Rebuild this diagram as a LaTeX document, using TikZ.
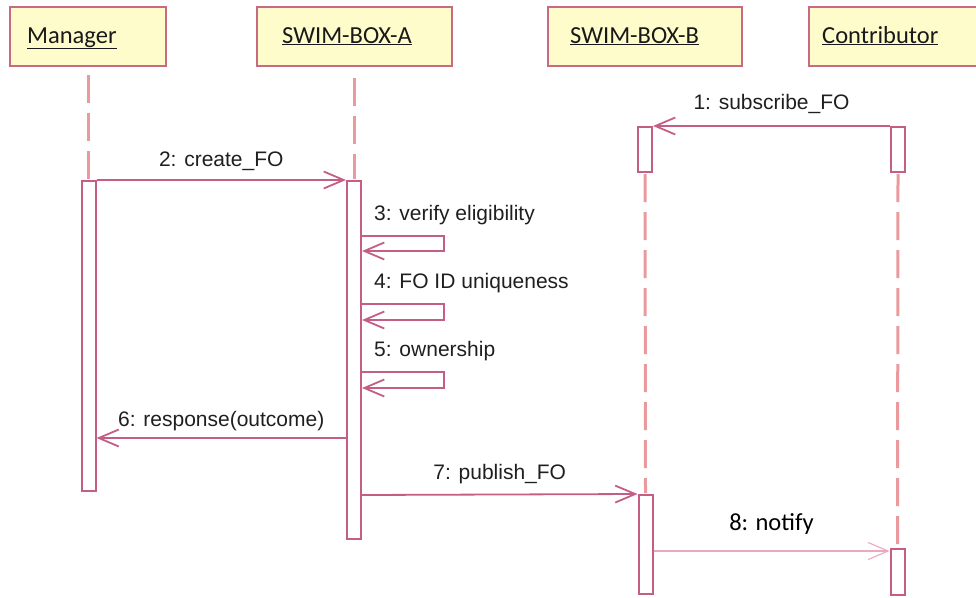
\documentclass[tikz,border=0pt]{standalone}
\usepackage{fontspec}
\setmainfont{Liberation Sans}
\newfontfamily\headfont{Carlito}
\usetikzlibrary{arrows.meta}

\definecolor{headfill}{HTML}{FFFCCB}
\definecolor{headline}{HTML}{C86A84}
\definecolor{lifecol}{HTML}{EA9A9C}
\definecolor{msgcol}{HTML}{C55E85}
\definecolor{notifycol}{HTML}{EBA9BE}

\begin{document}
\begin{tikzpicture}[x=1pt, y=-1pt,
        head/.style={draw=headline, fill=headfill, line width=2pt, inner sep=0pt, minimum height=59pt},
        headtext/.style={anchor=base west, inner sep=0pt, font=\headfont\fontsize{24.5}{28}\selectfont, text=black!90},
        bar/.style={draw=msgcol, fill=white, line width=2pt, inner sep=0pt, minimum width=14pt},
        life/.style={lifecol, line width=3pt, dash pattern=on 28pt off 10pt},
        msg/.style={msgcol, line width=1.8pt, -{Straight Barb[length=20pt, width=17pt]}},
        lbl/.style={anchor=base, inner sep=0pt, font=\fontsize{21}{25}\selectfont, text=black!88}]
    \useasboundingbox (0, 0) rectangle (976, 597);

    % lifeline heads
    \node[head, minimum width=156pt] (mgr) at (88, 36.5) {};
    \node[head, minimum width=195pt] (boxa) at (354.5, 36.5) {};
    \node[head, minimum width=194pt] (boxb) at (645, 36.5) {};
    \node[head, minimum width=181pt] (contr) at (899.5, 36.5) {};
    \node[headtext] (mgrname) at ([xshift=18pt]mgr.west |- 0, 43) {\underline{Manager}};
    \node[headtext] (boxaname) at ([xshift=26pt]boxa.west |- 0, 43) {\underline{SWIM-BOX-A}};
    \node[headtext] (boxbname) at ([xshift=23pt]boxb.west |- 0, 43) {\underline{SWIM-BOX-B}};
    \node[headtext] (contrname) at ([xshift=14pt]contr.west |- 0, 43) {\underline{Contributor}};

    % activation bars
    \node[bar, minimum height=310pt] (mgrbar) at (88.5, 336) {};
    \node[bar, minimum height=358pt] (abar) at (354, 360) {};
    \node[bar, minimum height=45pt] (bbarone) at (645, 149.5) {};
    \node[bar, minimum height=45pt] (cbarone) at (898, 149.5) {};
    \node[bar, minimum height=99pt] (bbartwo) at (645.5, 544.5) {};
    \node[bar, minimum height=46pt] (cbartwo) at (897.5, 572) {};

    % dashed lifelines
    \draw[life] (88.5, 75) -- ([yshift=1pt]mgrbar.north);
    \draw[life] (354, 78) -- ([yshift=1pt]abar.north);
    \draw[life] ([yshift=-1pt]bbarone.south) -- ([yshift=1pt]bbartwo.north);
    \draw[life] ([yshift=-1pt]cbarone.south) -- ([yshift=1pt]cbartwo.north);

    % messages
    \draw[msg] (cbarone.north west) -- node[lbl, midway, yshift=17pt] (m1) {1: subscribe\_FO} (bbarone.north east);
    \draw[msg] (mgrbar.north east) -- node[lbl, midway, yshift=14pt] (m2) {2: create\_FO} (abar.north west);
    \draw[msg] (abar.east |- 0, 236) -- ++(82, 0) -- ++(0, 15) -- (abar.east |- 0, 251);
    \node[lbl, anchor=base west] (m3) at (374, 220) {3: verify eligibility};
    \draw[msg] (abar.east |- 0, 304) -- ++(82, 0) -- ++(0, 16) -- (abar.east |- 0, 320);
    \node[lbl, anchor=base west] (m4) at (374, 288) {4: FO ID uniqueness};
    \draw[msg] (abar.east |- 0, 372) -- ++(82, 0) -- ++(0, 16) -- (abar.east |- 0, 388);
    \node[lbl, anchor=base west] (m5) at (374, 356) {5: ownership};
    \draw[msg] (abar.west |- 0, 438) -- node[lbl, midway, yshift=12pt] (m6) {6: response(outcome)} (mgrbar.east |- 0, 438);
    \draw[msg] (abar.east |- 0, 495) -- node[lbl, midway, yshift=15pt] (m7) {7: publish\_FO} (bbartwo.north west);
    \draw[notifycol, line width=1.1pt, -{Straight Barb[length=20pt, width=17pt]}] (bbartwo.east |- 0, 551) -- node[lbl, midway, yshift=21pt, font=\headfont\fontsize{24.5}{28}\selectfont, text=black] (m8) {8: notify} (cbartwo.west |- 0, 551);
\end{tikzpicture}
\end{document}
